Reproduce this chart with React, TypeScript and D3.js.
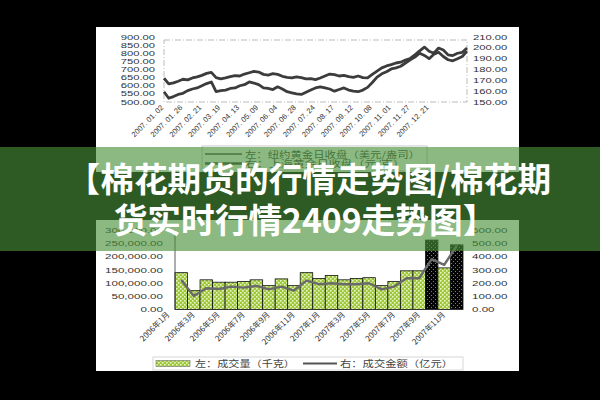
import React from 'react';
import * as d3 from 'd3';

// top chart: daily gold close 2007 (sampled), left = NY (USD/oz), right = Shanghai (CNY/g)
const topDates = [
  '2007. 01. 02', '2007. 01. 26', '2007. 02. 21', '2007. 03. 19', '2007. 04. 13',
  '2007. 05. 09', '2007. 06. 04', '2007. 06. 28', '2007. 07. 24', '2007. 08. 17',
  '2007. 09. 12', '2007. 10. 08', '2007. 11. 01', '2007. 11. 27', '2007. 12. 21',
];
const nyGold = [
  646, 612, 618, 628, 640, 636, 648, 655, 664, 676, 682, 650, 642, 648, 656, 662,
  660, 672, 680, 688, 684, 670, 666, 674, 670, 658, 652, 648, 655, 650, 642, 644,
  638, 648, 660, 672, 668, 660, 664, 656, 652, 660, 650, 648, 670, 690, 710, 722,
  730, 740, 745, 758, 768, 790, 815, 838, 812, 800, 832, 820, 790, 786, 800, 806, 832,
];
const shGold = [
  159.5, 153.5, 155, 157, 158, 160.5, 162, 163, 165, 167, 168.5, 159.5, 160.5, 161, 162.5, 163,
  165, 166, 168.5, 167.5, 166, 163, 162.5, 161.5, 164, 162, 159.5, 158.5, 157.5, 157, 159, 161,
  163, 164, 163, 162, 160, 161.5, 163, 161, 160, 159.5, 161, 163.5, 168, 173, 176, 178,
  180.5, 181.5, 183, 186, 189, 191.5, 195, 193, 190, 194, 196, 192, 189, 188, 190, 192, 197,
];

// bottom chart: monthly volume (kg) and turnover (100m CNY)
const months = [
  '2006年1月', '2006年2月', '2006年3月', '2006年4月', '2006年5月', '2006年6月',
  '2006年7月', '2006年8月', '2006年9月', '2006年10月', '2006年11月', '2006年12月',
  '2007年1月', '2007年2月', '2007年3月', '2007年4月', '2007年5月', '2007年6月',
  '2007年7月', '2007年8月', '2007年9月', '2007年10月', '2007年11月',
];
const volume = [
  139000, 71000, 112000, 103000, 103000, 106000, 112000, 90000, 115500, 90000, 139000, 117000,
  128000, 112000, 117000, 120000, 90000, 106000, 146000, 146000, 262000, 157000, 244000,
];
const turnover = [
  223, 102, 160, 155, 173, 165, 178, 152, 173, 143, 218, 191,
  198, 191, 191, 198, 152, 173, 236, 236, 380, 337, 481,
];
const darkMonths = ['2007年9月', '2007年11月'];

const numFont = '"Liberation Sans", Arial, sans-serif';
const cjkFont = '"Noto Sans CJK SC", sans-serif';

export default function App() {
  // top chart scales
  const xTop = d3.scaleLinear().domain([0, nyGold.length - 1]).range([164, 467]);
  const yNy = d3.scaleLinear().domain([500, 900]).range([102, 37]);
  const ySh = d3.scaleLinear().domain([150, 210]).range([102, 37]);
  const nyLine = d3.line<number>().x((_, i) => xTop(i)).y((d) => yNy(d));
  const shLine = d3.line<number>().x((_, i) => xTop(i)).y((d) => ySh(d));

  // bottom chart scales
  const xb = d3.scaleBand<string>().domain(months).range([175, 463]).padding(0);
  const yVol = d3.scaleLinear().domain([0, 300000]).range([309.5, 230]);
  const yAmt = d3.scaleLinear().domain([0, 600]).range([309.5, 230]);
  const bw = xb.bandwidth();
  const amtLine = d3.line<number>().x((_, i) => (xb(months[i]) as number) + bw / 2).y((d) => yAmt(d));

  const f2 = d3.format('.2f');
  const fc = d3.format(',.2f');

  return (
    <svg width={600} height={400} style={{ position: 'fixed', left: 0, top: 0 }}>
      <defs>
        <pattern id="grn" width={4} height={4} patternUnits="userSpaceOnUse">
          <rect width={4} height={4} fill="#9cc83a" />
          <rect x={0} y={0} width={1.6} height={1.6} fill="#e8f5c0" />
          <rect x={2} y={2} width={1.6} height={1.6} fill="#e8f5c0" />
        </pattern>
        <pattern id="blk" width={4} height={4} patternUnits="userSpaceOnUse">
          <rect width={4} height={4} fill="#050505" />
          <rect x={1} y={1} width={0.9} height={0.9} fill="#9a9a9a" />
          <rect x={3} y={3} width={0.9} height={0.9} fill="#9a9a9a" />
        </pattern>
      </defs>
      <rect width={600} height={400} fill="#000" />
      <rect x={96} y={27} width={423} height={145} fill="#fff" />
      <rect x={96} y={220} width={423} height={151} fill="#fff" />

      {/* top chart */}
      <rect x={164} y={40} width={303} height={62} fill="none" stroke="#aaa" strokeWidth={0.8} strokeDasharray="6,2,1,2" />
      {yNy.ticks(8).map((t) => (
        <text key={'l' + t} transform={`translate(155,${yNy(t) + 2.6}) scale(1.5,1)`} textAnchor="end"
          fontSize={7.5} fontFamily={numFont} fill="#333">{f2(t)}</text>
      ))}
      {ySh.ticks(6).map((t) => (
        <text key={'r' + t} transform={`translate(473,${ySh(t) + 2.6}) scale(1.5,1)`}
          fontSize={7.5} fontFamily={numFont} fill="#333">{f2(t)}</text>
      ))}
      {topDates.map((d, i) => (
        <text key={d} transform={`translate(${xTop(i * 4)},${108}) rotate(-45)`} textAnchor="end"
          fontSize={7.5} fontFamily={numFont} fill="#333">{d}</text>
      ))}
      <path d={nyLine(nyGold) || ''} fill="none" stroke="#3c3c3c" strokeWidth={2.8} strokeLinejoin="round" />
      <path d={shLine(shGold) || ''} fill="none" stroke="#3c3c3c" strokeWidth={2.8} strokeLinejoin="round" />

      {/* top legend */}
      <rect x={202} y={146} width={225} height={25} fill="#fff" stroke="#bbb" strokeWidth={0.8} />
      <line x1={205} x2={242} y1={154} y2={154} stroke="#444" strokeWidth={1.5} />
      <text x={245} y={157.5} fontSize={9} fontFamily={cjkFont} fill="#444" textLength={175} lengthAdjust="spacingAndGlyphs">左：纽约黄金日收盘（美元/盎司）</text>
      <line x1={205} x2={242} y1={163.5} y2={163.5} stroke="#444" strokeWidth={2.5} />
      <text x={245} y={167} fontSize={9} fontFamily={cjkFont} fill="#444" textLength={160} lengthAdjust="spacingAndGlyphs">右：上海黄金日收盘（元/克）</text>

      {/* bottom chart */}
      {yVol.ticks(6).map((t) => (
        <text key={'v' + t} transform={`translate(163,${yVol(t) + 2.8}) scale(1.45,1)`} textAnchor="end"
          fontSize={8} fontFamily={numFont} fill="#333">{fc(t)}</text>
      ))}
      {yAmt.ticks(6).map((t) => (
        <text key={'a' + t} transform={`translate(472,${yAmt(t) + 2.8}) scale(1.45,1)`}
          fontSize={8} fontFamily={numFont} fill="#333">{f2(t)}</text>
      ))}
      {months.map((m, i) => (
        <rect key={m} x={xb(m)} y={yVol(volume[i])} width={bw} height={yVol(0) - yVol(volume[i])}
          fill={darkMonths.includes(m) ? 'url(#blk)' : 'url(#grn)'} stroke="#111" strokeWidth={0.8} />
      ))}
      <line x1={175} x2={175} y1={230} y2={309.5} stroke="#333" strokeWidth={0.8} />
      <line x1={175} x2={463} y1={309.5} y2={309.5} stroke="#333" strokeWidth={0.8} />
      <path d={amtLine(turnover) || ''} fill="none" stroke="#6a6a6a" strokeWidth={2.4} strokeLinejoin="round" />
      {months.filter((_, i) => i % 2 === 0).map((m) => (
        <text key={'x' + m} transform={`translate(${(xb(m) as number) + bw / 2 - 11},${315}) rotate(-45)`} textAnchor="end"
          fontSize={8} fontFamily={cjkFont} fill="#333">{m}</text>
      ))}

      {/* bottom legend */}
      <rect x={153} y={357} width={310} height={13} fill="#fff" stroke="#ccc" strokeWidth={0.8} />
      <rect x={156} y={360.5} width={34} height={6} fill="url(#grn)" stroke="#555" strokeWidth={0.5} />
      <text x={195} y={367} fontSize={9} fontFamily={cjkFont} fill="#444" textLength={100} lengthAdjust="spacingAndGlyphs">左：成交量（千克）</text>
      <line x1={303} x2={337} y1={363.5} y2={363.5} stroke="#555" strokeWidth={1.8} />
      <text x={340} y={367} fontSize={9} fontFamily={cjkFont} fill="#444" textLength={113} lengthAdjust="spacingAndGlyphs">右：成交金额（亿元）</text>

      {/* banner overlay */}
      <rect x={0} y={147} width={600} height={104} fill="rgb(72,144,56)" opacity={0.63} />
      <text x={66.5} y={192} fontSize={33.7} fontWeight={700} fontFamily={cjkFont} fill="#fff">【棉花期货的行情走势图/棉花期</text>
      <text x={305} y={233} textAnchor="middle" fontSize={33.7} fontWeight={700} fontFamily={cjkFont} fill="#fff">货实时行情2409走势图】</text>
    </svg>
  );
}
